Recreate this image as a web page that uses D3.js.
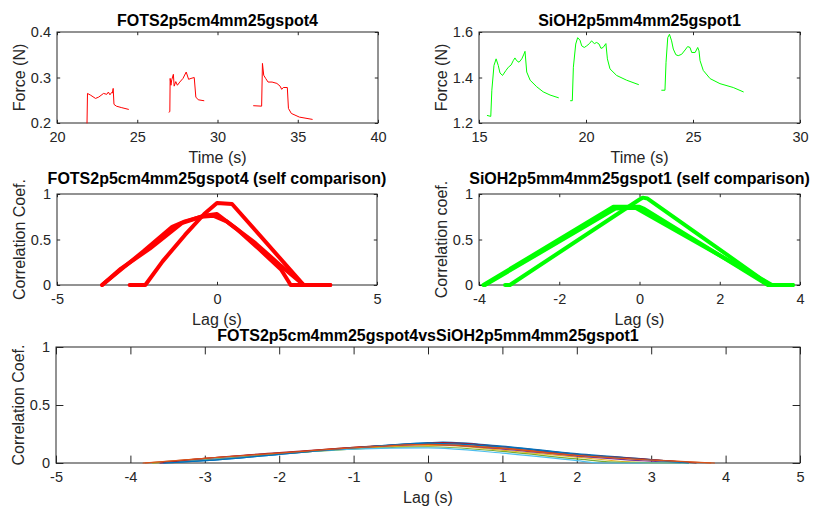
<!DOCTYPE html>
<html><head><meta charset="utf-8">
<script src="https://cdn.jsdelivr.net/npm/d3@7"></script>
<style>body{margin:0;background:#fff}</style>
</head><body><svg id="c" width="815" height="510"></svg>
<script>
// ---------- DATA ----------
// Top-left: FOTS force traces [time (s), force (N)]
const fotsSeg1 = [[21.87,0.200],[21.90,0.265],[22.1,0.261],[22.4,0.254],[22.6,0.257],[22.9,0.265],[23.1,0.263],[23.2,0.268],[23.3,0.262],[23.4,0.267],[23.45,0.266],[23.5,0.276],[23.55,0.241],[23.7,0.237],[24.0,0.234],[24.45,0.230]];
const fotsSeg2 = [[26.98,0.224],[27.03,0.225],[27.05,0.298],[27.1,0.283],[27.15,0.295],[27.25,0.307],[27.3,0.281],[27.4,0.291],[27.5,0.283],[27.65,0.290],[27.85,0.298],[28.05,0.312],[28.2,0.296],[28.35,0.298],[28.55,0.300],[28.65,0.257],[28.8,0.251],[29.15,0.249]];
const fotsSeg3 = [[32.25,0.238],[32.75,0.237],[32.8,0.331],[32.88,0.305],[33.0,0.298],[33.15,0.290],[33.4,0.290],[33.7,0.287],[33.9,0.281],[34.0,0.274],[34.1,0.278],[34.35,0.278],[34.42,0.232],[34.6,0.221],[35.1,0.213],[35.9,0.208]];
// Top-right: SiOH force traces
const siohSeg1 = [[15.39,1.233],[15.55,1.229],[15.6,1.344],[15.7,1.453],[15.8,1.482],[15.9,1.453],[15.98,1.420],[16.1,1.409],[16.26,1.431],[16.37,1.445],[16.5,1.455],[16.6,1.474],[16.68,1.486],[16.76,1.474],[16.87,1.467],[17.0,1.482],[17.1,1.503],[17.15,1.515],[17.23,1.424],[17.39,1.388],[17.7,1.359],[18.0,1.337],[18.32,1.323],[18.71,1.311]];
const siohSeg2 = [[19.28,1.298],[19.36,1.298],[19.41,1.445],[19.52,1.547],[19.61,1.575],[19.72,1.564],[19.8,1.539],[19.92,1.532],[20.03,1.539],[20.16,1.549],[20.26,1.561],[20.39,1.549],[20.5,1.554],[20.61,1.547],[20.7,1.528],[20.8,1.532],[20.93,1.549],[21.0,1.482],[21.12,1.438],[21.43,1.409],[21.9,1.388],[22.45,1.369]];
const siohSeg3 = [[23.54,1.344],[23.69,1.344],[23.74,1.467],[23.82,1.575],[23.9,1.590],[24.0,1.561],[24.08,1.525],[24.2,1.500],[24.31,1.496],[24.47,1.502],[24.63,1.521],[24.75,1.536],[24.86,1.532],[24.94,1.510],[25.1,1.510],[25.22,1.532],[25.28,1.517],[25.33,1.474],[25.48,1.431],[25.8,1.395],[26.26,1.373],[26.88,1.356],[27.35,1.337]];
// Middle-left: FOTS self-comparison [lag (s), coef]
const fotsSelfA = [[-2.73,0],[-2.24,0],[-1.7,0.26],[-1.0,0.55],[-0.4,0.78],[0.0,0.90],[0.47,0.89],[2.71,0],[3.54,0]];
const fotsSelfB = [[-3.59,0],[-3.0,0.17],[-2.3,0.37],[-1.4,0.64],[-1.0,0.70],[-0.4,0.76],[0.0,0.78],[0.6,0.62],[1.3,0.40],[2.0,0.17],[2.25,0.03],[2.3,0],[3.54,0]];
const fotsSelfC = [[-3.59,0],[-3.0,0.18],[-2.1,0.40],[-1.1,0.68],[-0.5,0.75],[-0.1,0.76],[0.3,0.70],[1.2,0.46],[2.0,0.21],[2.71,0]];
// Middle-right: SiOH self-comparison
const siohSelfA = [[-3.35,0],[-3.23,0],[0.0,0.94],[0.08,0.96],[0.2,0.95],[3.25,0],[3.82,0]];
const siohSelfB = [[-3.89,0],[-0.65,0.86],[0.0,0.86],[0.1,0.84],[3.2,0],[3.82,0]];
const siohSelfC = [[-3.85,0],[-0.6,0.84],[-0.1,0.85],[3.3,0],[3.82,0]];
// Bottom: cross comparison curves
const cross1 = [[-3.58,0],[-3,0.02],[-2,0.075],[-1,0.13],[0,0.175],[0.2,0.18],[1,0.145],[2,0.08],[3,0.03],[3.6,0]];
const cross2 = [[-3.83,0],[-3,0.04],[-2,0.085],[-1,0.135],[0,0.165],[0.2,0.17],[1,0.13],[2,0.07],[3,0.028],[3.85,0]];
const cross3 = [[-3.7,0],[-3,0.035],[-2,0.08],[-1,0.125],[0,0.15],[0.2,0.152],[1,0.11],[2,0.05],[2.7,0.01],[3.0,0],[3.6,0]];
const cross4 = [[-3.6,0],[-3,0.03],[-2,0.08],[-1,0.13],[0,0.16],[1,0.12],[2,0.06],[3,0.015],[3.4,0]];
const cross5 = [[-3.7,0],[-3,0.03],[-2,0.08],[-1,0.12],[0,0.14],[1,0.1],[2,0.035],[2.6,0.005],[3.5,0]];
const cross6 = [[-3.6,0],[-3,0.035],[-2,0.085],[-1,0.12],[0,0.13],[1,0.085],[2,0.02],[2.3,0],[3.6,0]];
const cross7 = [[-3.6,0],[-3,0.04],[-2,0.09],[-1,0.135],[0,0.17],[0.2,0.175],[1,0.14],[2,0.075],[3,0.03],[3.6,0]];
const cross8 = [[-3.55,0],[-3,0.02],[-2,0.075],[-1,0.13],[0,0.17],[1,0.14],[2,0.075],[3,0.025],[3.5,0]];
const cross9 = [[-3.8,0],[-3,0.04],[-2,0.085],[-1,0.13],[0,0.16],[1,0.125],[2,0.065],[3,0.025],[3.8,0]];
const crossColors = ['#0072BD','#D95319','#EDB120','#7E2F8E','#77AC30','#4DBEEE','#A2142F','#0072BD','#D95319'];

const ticksTime1 = [20,25,30,35,40], ticksForce1 = [0.2,0.3,0.4];
const ticksTime2 = [15,20,25,30], ticksForce2 = [1.2,1.4,1.6];
const ticksLag5 = [-5,0,5], ticksLag4 = [-4,-2,0,2,4], ticksCoef = [0,0.5,1];
const ticksLagAll = [-5,-4,-3,-2,-1,0,1,2,3,4,5];

// ---------- DRAW ----------
const svg = d3.select('#c');
svg.append('rect').attr('width',815).attr('height',510).attr('fill','#fff');
const FONT = '"Liberation Sans", Arial, Helvetica, sans-serif';
const AX = '#262626';
let clipN = 0;

function panel(o) {
  const x = d3.scaleLinear().domain(o.xd).range([o.l, o.r]);
  const y = d3.scaleLinear().domain(o.yd).range([o.b, o.t]);
  const tl = o.tick;
  const g = svg.append('g');
  const fmt = d => String(+(+d).toFixed(3));
  const axes = [
    [d3.axisBottom(x).tickValues(o.xt).tickFormat(fmt).tickPadding(8.5), `translate(0,${o.b})`],
    [d3.axisTop(x).tickValues(o.xt).tickFormat(''), `translate(0,${o.t})`],
    [d3.axisLeft(y).tickValues(o.yt).tickFormat(fmt).tickPadding(6), `translate(${o.l},0)`],
    [d3.axisRight(y).tickValues(o.yt).tickFormat(''), `translate(${o.r},0)`]
  ];
  axes.forEach(([ax, tr]) => {
    const a = g.append('g').attr('transform', tr)
      .call(ax.tickSize(-tl).tickSizeOuter(0));
    a.select('.domain').remove();
    a.selectAll('line').attr('stroke', AX).attr('stroke-width', 1);
    a.selectAll('text').attr('fill', AX).style('font-family', FONT).style('font-size', '14.5px');
  });
  g.append('rect').attr('x', o.l).attr('y', o.t).attr('width', o.r - o.l).attr('height', o.b - o.t)
    .attr('fill', 'none').attr('stroke', AX).attr('stroke-width', 1);
  const id = 'clip' + (clipN++);
  svg.append('clipPath').attr('id', id).append('rect')
    .attr('x', o.l - 3).attr('y', o.t - 3).attr('width', o.r - o.l + 6).attr('height', o.b - o.t + 6);
  const lg = svg.append('g').attr('clip-path', `url(#${id})`);
  const line = d3.line().x(d => x(d[0])).y(d => y(d[1])).curve(o.curve || d3.curveLinear);
  o.series.forEach((s, i) => {
    lg.append('path').attr('d', line(s)).attr('fill', 'none')
      .attr('stroke', Array.isArray(o.color) ? o.color[i] : o.color)
      .attr('stroke-width', o.lw).attr('stroke-linejoin', 'round').attr('stroke-linecap', 'round');
  });
  svg.append('text').attr('x', (o.l + o.r) / 2).attr('y', o.titleY).attr('text-anchor', 'middle')
    .style('font-family', FONT).style('font-size', '16px').style('font-weight', 'bold').attr('fill', '#000')
    .text(o.title);
  svg.append('text').attr('x', (o.l + o.r) / 2).attr('y', o.b + 40).attr('text-anchor', 'middle')
    .style('font-family', FONT).style('font-size', '16px').attr('fill', AX).text(o.xlabel);
  svg.append('text').attr('transform', `translate(${o.l - 32},${(o.t + o.b) / 2}) rotate(-90)`)
    .attr('text-anchor', 'middle')
    .style('font-family', FONT).style('font-size', '16px').attr('fill', AX).text(o.ylabel);
}

panel({l:57, r:378, t:32, b:123, xd:[20,40], yd:[0.2,0.4], xt:ticksTime1, yt:ticksForce1, tick:3.2,
  series:[fotsSeg1, fotsSeg2, fotsSeg3], color:'#ff0000', lw:1,
  title:'FOTS2p5cm4mm25gspot4', titleY:26, xlabel:'Time (s)', ylabel:'Force (N)'});
panel({l:479, r:800, t:32, b:123, xd:[15,30], yd:[1.2,1.6], xt:ticksTime2, yt:ticksForce2, tick:3.2,
  series:[siohSeg1, siohSeg2, siohSeg3], color:'#00ff00', lw:1,
  title:'SiOH2p5mm4mm25gspot1', titleY:26, xlabel:'Time (s)', ylabel:'Force (N)'});
panel({l:57, r:377, t:194, b:285, xd:[-5,5], yd:[0,1], xt:ticksLag5, yt:ticksCoef, tick:3.2,
  series:[fotsSelfA, fotsSelfB, fotsSelfC], color:'#ff0000', lw:4,
  title:'FOTS2p5cm4mm25gspot4 (self comparison)', titleY:184, xlabel:'Lag (s)', ylabel:'Correlation Coef.'});
panel({l:479, r:800, t:194, b:285, xd:[-4,4], yd:[0,1], xt:ticksLag4, yt:ticksCoef, tick:3.2,
  series:[siohSelfA, siohSelfB, siohSelfC], color:'#00ff00', lw:4,
  title:'SiOH2p5mm4mm25gspot1 (self comparison)', titleY:184, xlabel:'Lag (s)', ylabel:'Correlation coef.'});
panel({l:56, r:800, t:347, b:463, xd:[-5,5], yd:[0,1], xt:ticksLagAll, yt:ticksCoef, tick:7.4,
  series:[cross1,cross2,cross3,cross4,cross5,cross6,cross7,cross8,cross9], color:crossColors, lw:1.2,
  curve:d3.curveMonotoneX,
  title:'FOTS2p5cm4mm25gspot4vsSiOH2p5mm4mm25gspot1', titleY:341, xlabel:'Lag (s)', ylabel:'Correlation Coef.'});
</script></body></html>
